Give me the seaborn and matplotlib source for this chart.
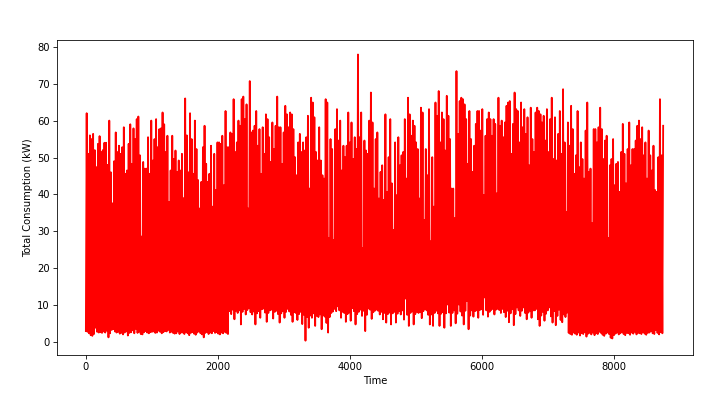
import numpy as np
import pandas as pd
import matplotlib
matplotlib.use("Agg")
import matplotlib.pyplot as plt
import seaborn as sns

# Daily peak consumption (kW), read left to right from the chart
peak_kw = [
    # hours ~0-1430
    62, 51, 56, 55, 56.4, 52, 47.4, 53.7, 55.8, 51.5, 52, 54, 54, 48, 60, 46, 37.6, 49, 56.8, 51.5,
    53.2, 51, 52.8, 58.2, 45.6, 46.5, 53.7, 59, 48.3, 57.9, 55, 60.4, 61.1, 50.6, 28.6, 48.8, 47, 47, 55.5, 45.6,
    60, 49.2, 55, 60.4, 52.8, 57.7, 57.9, 62.2, 59, 51.5, 55.9, 38, 46.5, 55.9, 49.6, 51.9, 46.1, 49.2, 46.5, 51,
    # hours ~1430-2950
    39, 66, 56, 46, 62, 55, 45.6, 60, 52.3, 43.9, 36.2, 43.4, 52.8, 58.6, 48.3, 43.4, 45.6, 53.2, 36.7, 51,
    41.2, 54.1, 54.1, 53.7, 55.9, 42.5, 62.6, 52.8, 52.8, 56.8, 56.4, 65.8, 51.5, 54.1, 60, 58.6, 65.8, 66.5, 60.4, 64.4,
    36.2, 70.7, 56.8, 57.3, 58.6, 62.6, 53.2, 57.7, 45.6, 58.2, 51, 61.7, 60.4, 55.5, 48.8, 59.5, 52.3, 58.6, 66.5, 58.2,
    # hours ~2950-4470
    58.2, 48.3, 56.8, 64, 61.7, 58.2, 62.2, 61.7, 57.7, 50.1, 45.2, 54.1, 56.4, 51.5, 54.1, 51.9, 55.5, 61.3, 41.6, 66.2,
    64.9, 60.9, 51.5, 49.2, 58.2, 49.2, 45.2, 44.3, 65.8, 64.9, 28.2, 55, 52.3, 27.7, 57.7, 63.1, 54.6, 60, 46.5, 53.2,
    50.1, 53.2, 62.2, 54.1, 59.5, 49.6, 55.5, 52.3, 77.9, 55.5, 62.2, 25.5, 54.6, 51.9, 51, 60, 67.6, 59.5, 41.6, 55,
    # hours ~4470-5990
    56.8, 38.9, 46.1, 47.9, 38.5, 61.7, 40.7, 50.1, 60.4, 43, 30.4, 54.1, 39.8, 55.5, 47.9, 50.6, 51.5, 60.4, 44.3, 66.2,
    61.7, 55.9, 60, 58.6, 54.1, 52.3, 38.9, 63.5, 62.2, 33.1, 52.3, 45.2, 63.1, 27.3, 50.1, 36.7, 64.9, 61.3, 68, 54.1,
    62.2, 60.4, 51.9, 66.7, 61.3, 55, 41.6, 41.6, 33.6, 73.4, 56.4, 65.3, 66.2, 65.8, 64.4, 60.4, 48.3, 62.6, 55, 46.1,
    53.2, 59.1,
    # hours ~5990-7510
    62.6, 62.6, 57.3, 63.1, 39.8, 55.9, 60.4, 62.2, 60.4, 55.9, 60.4, 59.1, 40.3, 66.2, 58.6, 60, 55.5, 59.5, 64, 64.9,
    65.3, 51, 59.1, 67.6, 63.1, 62.6, 54.1, 64.9, 58.2, 63.1, 56.4, 60.9, 47.9, 63.5, 55, 51.5, 62.2, 63.5, 62.6, 61.7,
    59.5, 61.3, 54.6, 63.1, 51.5, 60.4, 66.2, 49.6, 60.9, 49.2, 56.4, 62.6, 51, 68.5, 54.1, 35.3, 59.5, 53.2, 64, 57.7,
    45.6,
    # hours ~7510-8760
    50.6, 62.6, 47.4, 54.1, 49.6, 44.3, 57.3, 64.9, 46.1, 47, 32.2, 57.7, 57.7, 54.1, 58.2, 63.5, 57.7, 49.6, 54.6, 55.9,
    28.2, 47.9, 49.6, 55, 42.5, 48.3, 48.8, 40.7, 51.5, 59.1, 51, 43, 52.3, 59.5, 47.9, 52.3, 52.3, 54.6, 58.6, 60,
    55, 58.2, 50.6, 54.1, 44.3, 57.3, 50.6, 46.5, 53.2, 41.2, 40.7, 50.1, 65.8, 50.6, 58.6,
]

# Daily minimum consumption (kW), read left to right from the chart
low_kw = [
    3.0, 2.8, 2.4, 1.9, 1.7, 2.2, 3.9, 2.8, 2.6, 2.7, 2.5, 2.9, 2.6, 3.1, 1.3, 2.4, 3.3, 3.5, 2.9, 2.6,
    2.8, 2.3, 2.5, 2.1, 2.6, 2.9, 1.8, 2.5, 2.7, 3.2, 2.4, 3.6, 2.5, 2.8, 2.2, 2.1, 2.7, 3.0, 2.6, 2.4,
    2.7, 2.8, 2.9, 2.5, 2.6, 3.1, 2.8, 2.4, 2.7, 3.0, 2.9, 3.3, 2.6, 2.8, 2.5, 2.3, 2.4, 2.9, 2.2, 2.6,
    2.6, 2.2, 2.8, 2.4, 1.9, 2.5, 2.7, 2.3, 2.0, 2.6, 2.9, 2.4, 2.1, 1.3, 2.5, 2.8, 2.2, 2.6, 2.4, 3.0,
    2.5, 2.7, 2.3, 2.1, 2.6, 2.4, 2.8, 2.5, 2.2,
    8.4, 7.6, 8.8, 6.2, 8.5, 7.9, 8.6, 4.8, 8.2, 9.0, 7.5, 8.7, 9.2, 8.1, 7.5, 8.3, 4.8, 7.8, 8.4, 6.6,
    8.9, 9.1, 8.0, 5.5, 7.9, 8.6, 8.8, 6.4, 8.2, 8.5, 7.6,
    5.3, 7.8, 8.4, 6.6, 8.2, 9.0, 8.3, 7.4, 5.5, 8.1, 7.9, 6.0, 7.6, 8.2, 4.9, 7.4, 0.4, 6.8, 3.9, 7.2,
    6.6, 7.8, 4.4, 7.1, 6.8, 7.5, 3.5, 7.2, 6.9, 5.2, 2.6, 6.8, 7.9, 8.3, 9.0, 8.4, 9.7, 8.6, 6.6, 8.2,
    7.9, 5.5, 7.6, 8.0, 5.8, 9.2, 8.4, 4.8, 7.6, 8.2, 8.8, 7.1, 8.5, 3.0, 7.4, 9.1, 8.8, 6.3, 8.1, 8.5,
    8.8, 8.5, 7.5, 8.2, 6.2, 7.9, 5.3, 7.6, 8.0, 4.8, 7.8, 8.2, 5.3, 7.7, 8.4, 7.5, 8.6, 6.1, 11.8, 7.4,
    4.4, 7.9, 8.3, 4.8, 7.6, 8.2, 7.9, 8.1, 6.5, 8.4, 8.9, 8.6, 7.4, 4.8, 7.5, 4.4, 7.9, 8.5, 7.8, 4.4,
    7.7, 8.1, 3.9, 7.8, 10.2, 8.0, 4.4, 7.9, 8.6, 5.1, 7.7, 10.2, 8.3, 7.2, 4.8, 8.5, 11.1, 3.5, 7.2, 8.6,
    6.9, 8.4,
    8.6, 6.6, 8.7, 8.9, 7.4, 12.1, 8.6, 6.9, 8.2, 8.7, 9.0, 7.5, 8.8, 9.0, 8.7, 7.9, 9.0, 8.1, 6.8, 8.5,
    5.4, 7.8, 8.9, 4.6, 7.6, 9.4, 8.6, 7.1, 8.5, 9.4, 7.9, 6.2, 8.0, 8.5, 6.6, 8.6, 8.6, 9.0, 6.2, 4.4,
    7.2, 8.2, 5.8, 7.7, 8.6, 9.4, 7.0, 5.3, 8.4, 4.6, 7.1, 8.8, 6.0, 5.4, 7.5, 6.8, 8.0, 2.5, 2.2, 2.0,
    2.6,
    2.3, 2.0, 2.6, 1.8, 2.4, 2.2, 2.7, 1.5, 2.3, 2.5, 2.1, 2.6, 1.9, 2.4, 2.2, 2.8, 2.5, 2.0, 1.7, 2.3,
    2.6, 2.2, 1.2, 1.0, 1.9, 2.3, 2.6, 2.1, 2.4, 2.7, 2.2, 1.9, 2.5, 2.4, 2.0, 2.6, 2.3, 2.8, 2.1, 2.5,
    2.4, 2.2, 2.7, 2.3, 2.0, 2.5, 2.6, 3.0, 2.4, 2.2, 3.3, 2.5, 2.1, 2.7, 2.4,
]

TOTAL_HOURS = 8760
X_LABEL = "Time"
Y_LABEL = "Total Consumption (kW)"

n = min(len(peak_kw), len(low_kw))
step = TOTAL_HOURS / n
# Interleave each period's minimum and maximum reading along the time axis
times, values = [], []
for i in range(n):
    times.append(i * step)
    values.append(low_kw[i])
    times.append(i * step + step / 2)
    values.append(peak_kw[i])

df = pd.DataFrame({"Time": times, "Total Consumption (kW)": values})

plt.rcParams["font.family"] = ["DejaVu Sans"]
# Rendered at a reduced dpi so text and lines match the reference's scale
fig, ax = plt.subplots(figsize=(10, 394 / 72.1), dpi=72.1)
fig.subplots_adjust(left=0.079, right=0.961, top=0.898, bottom=0.099)

sns.lineplot(data=df, x="Time", y="Total Consumption (kW)", color="red",
             linewidth=1.8, estimator=None, sort=False, ax=ax)
ax.set_xlabel(X_LABEL)
ax.set_ylabel(Y_LABEL)
ax.set_xlim(-0.05 * TOTAL_HOURS, 1.05 * TOTAL_HOURS)

fig.savefig("out.png", dpi=72.1)
